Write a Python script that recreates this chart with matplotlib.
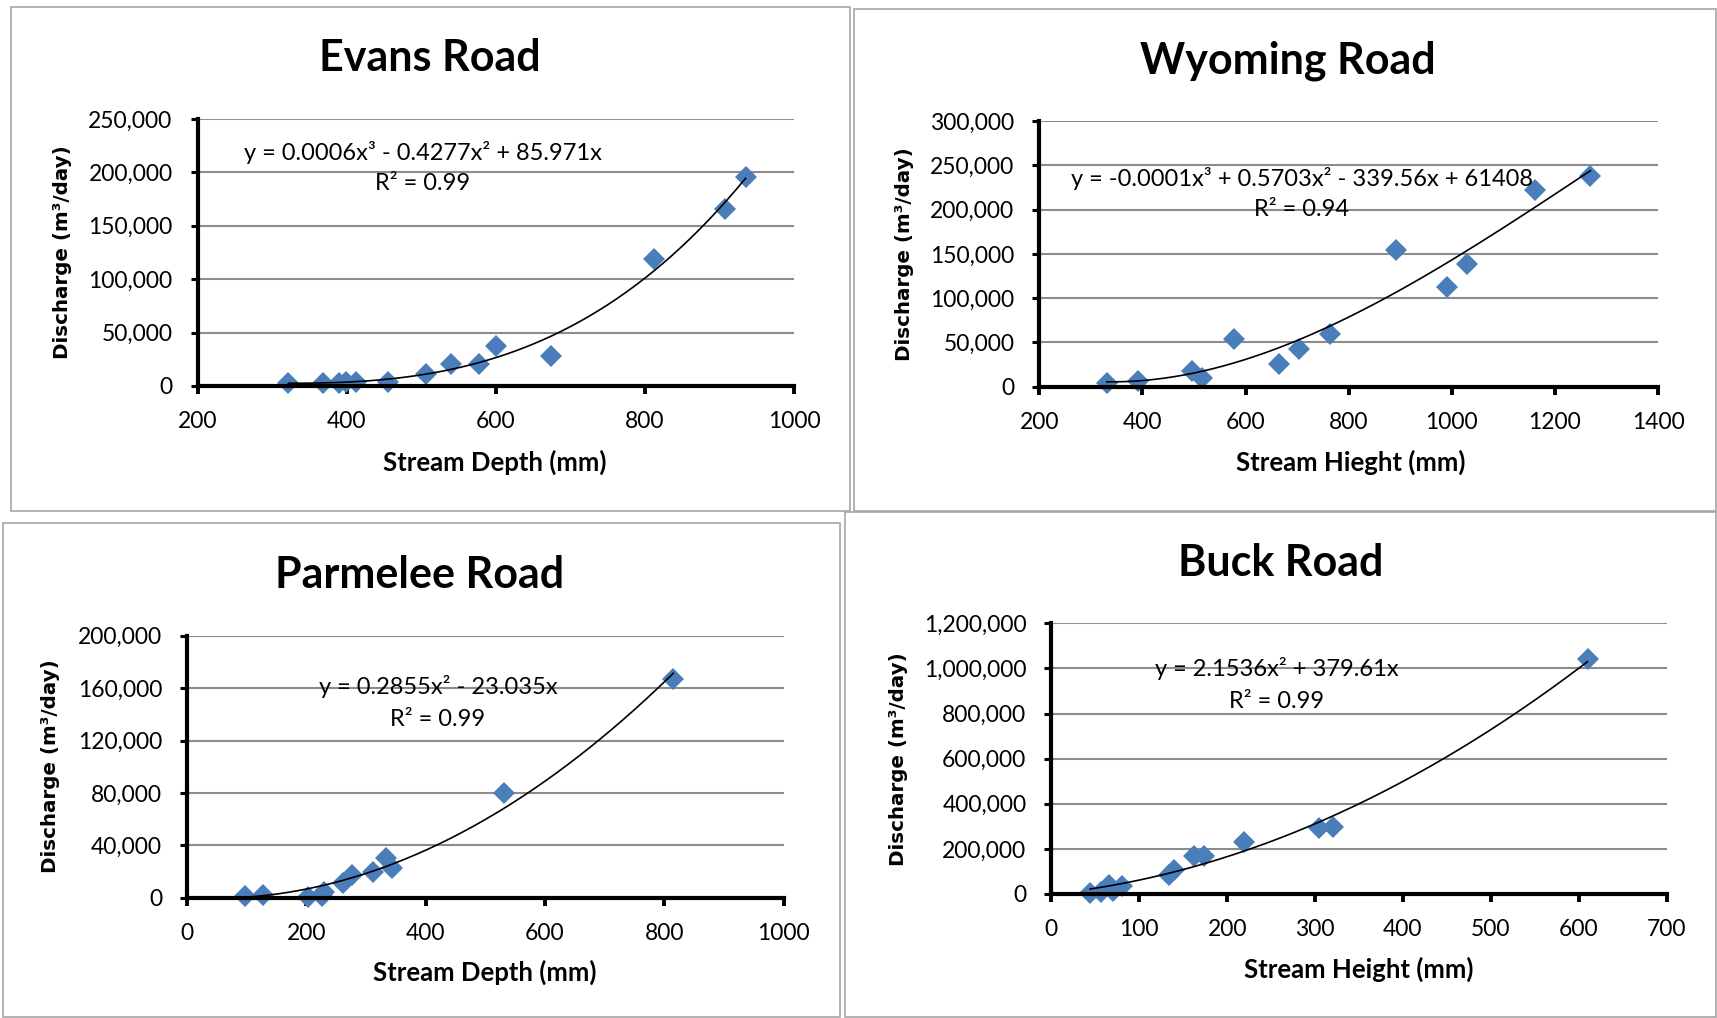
import numpy as np
import matplotlib.pyplot as plt
from matplotlib.patches import Rectangle
from matplotlib.ticker import FuncFormatter, MultipleLocator

W, H = 1717, 1018
BLUE = '#4a7ebb'

# Evans Road: depth (mm) vs discharge (m3/day)
evans_x = [322, 368, 390, 399, 412, 455, 507, 540, 578, 600, 674, 812, 907, 935]
evans_y = [2500, 3100, 3100, 4000, 3500, 3500, 10900, 21000, 20500, 37500,
           28000, 119000, 166000, 196000]

# Wyoming Road: height (mm) vs discharge
wyoming_x = [331, 392, 497, 515, 578, 664, 704, 763, 892, 991, 1029, 1161, 1269]
wyoming_y = [3800, 6800, 18000, 9500, 53500, 25200, 42200, 59100, 154400,
             112200, 138200, 222100, 238000]

# Parmelee Road: depth (mm) vs discharge
parmelee_x = [97, 127, 202, 227, 230, 262, 276, 312, 333, 343, 531, 815]
parmelee_y = [1300, 2000, 800, 1300, 4600, 11000, 17300, 19800, 30300, 23000,
              80200, 167000]

# Buck Road: height (mm) vs discharge
buck_x = [44, 57, 65, 70, 80, 134, 140, 162, 174, 219, 305, 320, 610]
buck_y = [5000, 8000, 42000, 15000, 35000, 84000, 106000, 168000, 168000,
          232000, 291000, 296000, 1040000]

panels = [
    dict(title='Evans Road', x=evans_x, y=evans_y, powers=[3, 2, 1],
         xlim=(200, 1000), xstep=200, ylim=(0, 250000), ystep=50000,
         xlabel='Stream Depth (mm)',
         eq='y = 0.0006x³ - 0.4277x² + 85.971x', r2='R² = 0.99',
         frame=(11, 7, 850, 511), axes=(197.5, 119, 794, 386),
         title_xy=(430, 58), xlabel_xy=(495, 462), ylabel_xy=(62, 252),
         eq_xy=(423, 152), r2_xy=(423, 184)),
    dict(title='Wyoming Road', x=wyoming_x, y=wyoming_y, powers=[3, 2, 1, 0],
         xlim=(200, 1400), xstep=200, ylim=(0, 300000), ystep=50000,
         xlabel='Stream Hieght (mm)',
         eq='y = -0.0001x³ + 0.5703x² - 339.56x + 61408', r2='R² = 0.94',
         frame=(854, 9, 1716, 511), axes=(1039.3, 121, 1658, 386.7),
         title_xy=(1288, 61), xlabel_xy=(1351, 462), ylabel_xy=(904, 254),
         eq_xy=(1302, 178), r2_xy=(1302, 210)),
    dict(title='Parmelee Road', x=parmelee_x, y=parmelee_y, powers=[2, 1],
         xlim=(0, 1000), xstep=200, ylim=(0, 200000), ystep=40000,
         xlabel='Stream Depth (mm)',
         eq='y = 0.2855x² - 23.035x', r2='R² = 0.99',
         frame=(3, 523, 840, 1017), axes=(187, 635.7, 783.7, 897.7),
         title_xy=(420, 575), xlabel_xy=(485, 972), ylabel_xy=(51, 766),
         eq_xy=(438, 687), r2_xy=(438, 719)),
    dict(title='Buck Road', x=buck_x, y=buck_y, powers=[2, 1],
         xlim=(0, 700), xstep=100, ylim=(0, 1200000), ystep=200000,
         xlabel='Stream Height (mm)',
         eq='y = 2.1536x² + 379.61x', r2='R² = 0.99',
         frame=(845, 512, 1716, 1017), axes=(1051.4, 623.3, 1666.6, 894),
         title_xy=(1281, 563), xlabel_xy=(1359, 969), ylabel_xy=(898, 759),
         eq_xy=(1277, 668), r2_xy=(1277, 701)),
]

fig = plt.figure(figsize=(W / 100, H / 100), dpi=100)


def fx(px):
    return px / W


def fy(py):
    return 1 - py / H


def poly_fit(x, y, powers):
    # least squares polynomial trend using only the given powers
    x = np.asarray(x, float)
    A = np.column_stack([x ** p for p in powers])
    coef, *_ = np.linalg.lstsq(A, np.asarray(y, float), rcond=None)
    return coef


for p in panels:
    x0, y0, x1, y1 = p['frame']
    fig.add_artist(Rectangle((fx(x0), fy(y1)), fx(x1 - x0), (y1 - y0) / H,
                             transform=fig.transFigure, fill=False,
                             edgecolor='#a6a6a6', linewidth=1.2))

    l, t, r, b = p['axes']
    ax = fig.add_axes([fx(l), fy(b), fx(r - l), (b - t) / H])
    ax.set_xlim(*p['xlim'])
    ax.set_ylim(*p['ylim'])
    ax.xaxis.set_major_locator(MultipleLocator(p['xstep']))
    ax.yaxis.set_major_locator(MultipleLocator(p['ystep']))
    ax.yaxis.set_major_formatter(FuncFormatter(lambda v, _: f'{v:,.0f}'))

    for s in ['top', 'right']:
        ax.spines[s].set_visible(False)
    for s in ['left', 'bottom']:
        ax.spines[s].set_linewidth(3)
        ax.spines[s].set_zorder(4)
    ax.grid(axis='y', color='#8c8c8c', linewidth=1.5, zorder=0)
    ax.set_axisbelow(True)
    ax.tick_params(axis='x', direction='out', length=6, width=2.8, pad=12,
                   labelsize=16.5)
    ax.tick_params(axis='y', direction='out', length=5, width=2.2, pad=13,
                   labelsize=16.5)
    for lab in ax.get_xticklabels() + ax.get_yticklabels():
        lab.set_family('Lato')

    ax.plot(p['x'], p['y'], linestyle='none', marker='D', markersize=11.5,
            color=BLUE, markeredgewidth=0, zorder=3, clip_on=False)

    coef = poly_fit(p['x'], p['y'], p['powers'])
    xs = np.linspace(min(p['x']), max(p['x']), 200)
    ys = sum(c * xs ** k for c, k in zip(coef, p['powers']))
    ax.plot(xs, ys, color='black', linewidth=1.2, zorder=3.5)

    fig.text(fx(p['title_xy'][0]), fy(p['title_xy'][1]), p['title'],
             family='Lato', weight='bold', fontsize=31,
             ha='center', va='center')
    fig.text(fx(p['xlabel_xy'][0]), fy(p['xlabel_xy'][1]), p['xlabel'],
             family='Lato', weight='bold', fontsize=18.5,
             ha='center', va='center')
    fig.text(fx(p['ylabel_xy'][0]), fy(p['ylabel_xy'][1]), 'Discharge (m³/day)',
             family='DejaVu Sans', weight='bold', fontsize=14.3,
             rotation=90, ha='center', va='center')
    fig.text(fx(p['eq_xy'][0]), fy(p['eq_xy'][1]), p['eq'],
             family='Lato', fontsize=17, ha='center', va='center', zorder=5)
    fig.text(fx(p['r2_xy'][0]), fy(p['r2_xy'][1]), p['r2'],
             family='Lato', fontsize=17, ha='center', va='center', zorder=5)

fig.savefig('out.png', dpi=100, facecolor='white')
